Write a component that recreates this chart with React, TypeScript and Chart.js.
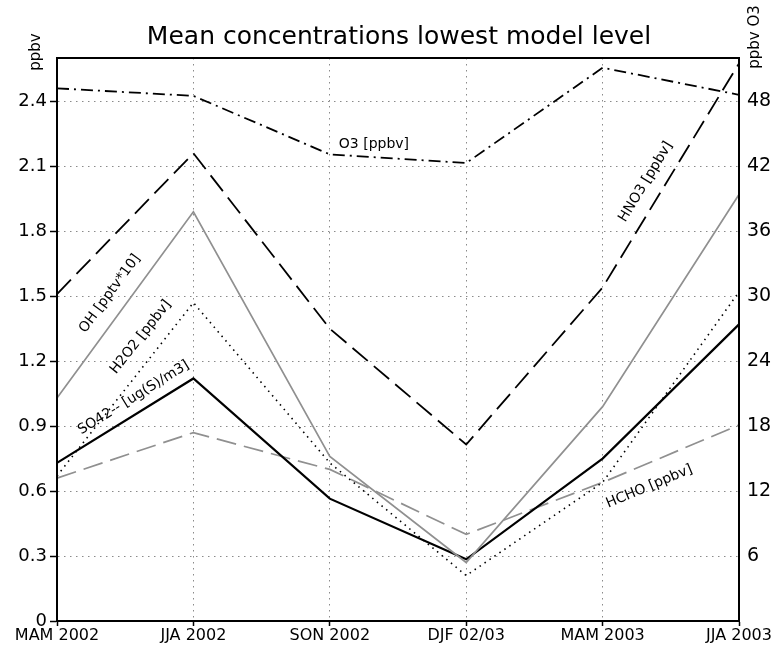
import React, { useEffect, useRef } from "react";
import { Chart, registerables } from "chart.js";

Chart.register(...registerables);

const categories = ["MAM 2002", "JJA 2002", "SON 2002", "DJF 02/03", "MAM 2003", "JJA 2003"];
const o3 = [49.2, 48.5, 43.1, 42.3, 51.1, 48.6]; // right axis, ppbv
const hno3 = [1.51, 2.16, 1.35, 0.815, 1.54, 2.575];
const oh = [1.03, 1.89, 0.76, 0.27, 0.99, 1.97];
const h2o2 = [0.67, 1.47, 0.73, 0.21, 0.64, 1.52];
const so4 = [0.73, 1.12, 0.565, 0.285, 0.75, 1.37];
const hcho = [0.66, 0.87, 0.70, 0.40, 0.64, 0.905];

const leftMax = 2.6;
const rightMax = 52;
const title = "Mean concentrations lowest model level";

// label placement: dataset index, segment, fraction along segment, perpendicular offset
const lineLabels = [
  { text: "OH [pptv*10]", ds: 2, seg: 0, t: 0.5, off: 19 },
  { text: "H2O2 [ppbv]", ds: 3, seg: 0, t: 0.73, off: 20 },
  { text: "SO42-- [ug(S)/m3]", ds: 4, seg: 0, t: 0.62, off: 15 },
  { text: "HNO3 [ppbv]", ds: 1, seg: 4, t: 0.43, off: 18 },
  { text: "HCHO [ppbv]", ds: 5, seg: 4, t: 0.28, off: -22 },
];

const FONT = '"DejaVu Sans", sans-serif';

const decorPlugin = {
  id: "decor",
  afterDraw(chart: any) {
    const ctx = chart.ctx as CanvasRenderingContext2D;
    const a = chart.chartArea;
    ctx.save();
    // frame
    ctx.strokeStyle = "#000";
    ctx.lineWidth = 2;
    ctx.strokeRect(a.left, a.top, a.right - a.left, a.bottom - a.top);
    // title
    ctx.fillStyle = "#000";
    ctx.font = `25px ${FONT}`;
    ctx.textAlign = "center";
    ctx.textBaseline = "alphabetic";
    ctx.fillText(title, (a.left + a.right) / 2 + 1, 44);
    // axis titles
    ctx.save();
    ctx.font = `15px ${FONT}`;
    ctx.translate(36, 52);
    ctx.rotate(-Math.PI / 2);
    ctx.textAlign = "center";
    ctx.textBaseline = "middle";
    ctx.fillText("ppbv", 0, 0);
    ctx.restore();
    ctx.save();
    ctx.font = `15px ${FONT}`;
    ctx.translate(755, 37);
    ctx.rotate(-Math.PI / 2);
    ctx.textAlign = "center";
    ctx.textBaseline = "middle";
    ctx.fillText("ppbv O3", 0, 0);
    ctx.restore();
    // line labels
    ctx.font = `14px ${FONT}`;
    for (const L of lineLabels) {
      const meta = chart.getDatasetMeta(L.ds);
      const p0 = meta.data[L.seg];
      const p1 = meta.data[L.seg + 1];
      const dx = p1.x - p0.x;
      const dy = p1.y - p0.y;
      const len = Math.hypot(dx, dy);
      const ux = dx / len, uy = dy / len;
      const nx = uy, ny = -ux;
      const cx = p0.x + dx * L.t + nx * L.off;
      const cy = p0.y + dy * L.t + ny * L.off;
      ctx.save();
      ctx.translate(cx, cy);
      ctx.rotate(Math.atan2(dy, dx));
      ctx.textAlign = "center";
      ctx.textBaseline = "middle";
      ctx.fillText(L.text, 0, 0);
      ctx.restore();
    }
    // O3 label
    const m0 = chart.getDatasetMeta(0);
    const ps = m0.data[2];
    ctx.textAlign = "left";
    ctx.textBaseline = "middle";
    ctx.fillText("O3 [ppbv]", ps.x + 9, ps.y - 10);
    ctx.restore();
  },
};

export default function App() {
  const ref = useRef<HTMLCanvasElement>(null);
  useEffect(() => {
    const gridColor = "#8a8a8a";
    const chart = new Chart(ref.current!, {
      type: "line",
      data: {
        labels: categories,
        datasets: [
          { label: "O3", data: o3, yAxisID: "y1", borderColor: "#000", borderWidth: 1.8, borderDash: [12, 5, 2, 5], pointRadius: 0, fill: false, tension: 0 },
          { label: "HNO3", data: hno3, yAxisID: "y", borderColor: "#000", borderWidth: 1.8, borderDash: [20, 8], pointRadius: 0, fill: false, tension: 0 },
          { label: "OH", data: oh, yAxisID: "y", borderColor: "#909090", borderWidth: 1.7, pointRadius: 0, fill: false, tension: 0 },
          { label: "H2O2", data: h2o2, yAxisID: "y", borderColor: "#000", borderWidth: 1.6, borderDash: [1.5, 4.5], pointRadius: 0, fill: false, tension: 0 },
          { label: "SO4", data: so4, yAxisID: "y", borderColor: "#000", borderWidth: 2.2, pointRadius: 0, fill: false, tension: 0 },
          { label: "HCHO", data: hcho, yAxisID: "y", borderColor: "#909090", borderWidth: 1.7, borderDash: [20, 8], pointRadius: 0, fill: false, tension: 0 },
        ],
      },
      options: {
        animation: false,
        responsive: false,
        maintainAspectRatio: false,
        layout: { padding: { top: 58, left: 0, right: 0, bottom: 0 } },
        plugins: { legend: { display: false }, title: { display: false }, tooltip: { enabled: false } },
        scales: {
          x: {
            type: "category",
            offset: false,
            grid: { color: gridColor, lineWidth: 1, tickColor: "#000", tickLength: 5, tickWidth: 1.5, drawOnChartArea: true },
            border: { display: true, color: "#000", width: 2, dash: [1.5, 4.5] },
            ticks: { color: "#000", font: { family: FONT, size: 16 }, maxRotation: 0, autoSkip: false, padding: 0 },
            afterFit: (s: any) => { s.height = 28; },
          },
          y: {
            type: "linear",
            position: "left",
            min: 0,
            max: leftMax,
            grid: { color: gridColor, lineWidth: 1, tickColor: "#000", tickLength: 7, tickWidth: 1.5 },
            border: { display: true, color: "#000", width: 2, dash: [1.5, 4.5] },
            ticks: {
              stepSize: 0.3,
              includeBounds: false,
              color: "#000",
              padding: 3,
              font: { family: FONT, size: 18 },
              callback: (v: any) => (Math.abs(v) < 1e-9 ? "0" : Number(v).toFixed(1)),
            },
            afterFit: (s: any) => { s.width = 57; },
          },
          y1: {
            type: "linear",
            position: "right",
            min: 0,
            max: rightMax,
            grid: { drawOnChartArea: false, drawTicks: false },
            border: { display: true, color: "#000", width: 2 },
            ticks: {
              stepSize: 6,
              includeBounds: false,
              color: "#000",
              padding: 8,
              font: { family: FONT, size: 19 },
              callback: (v: any) => (Math.abs(v) < 1e-9 ? "" : String(Math.round(v))),
            },
            afterFit: (s: any) => { s.width = 43; },
          },
        },
      } as any,
      plugins: [decorPlugin],
    });
    return () => chart.destroy();
  }, []);
  return (
    <div style={{ position: "fixed", left: 0, top: 0, width: 782, height: 649, background: "#fff" }}>
      <canvas ref={ref} width={782} height={649} style={{ width: 782, height: 649, display: "block" }} />
    </div>
  );
}
